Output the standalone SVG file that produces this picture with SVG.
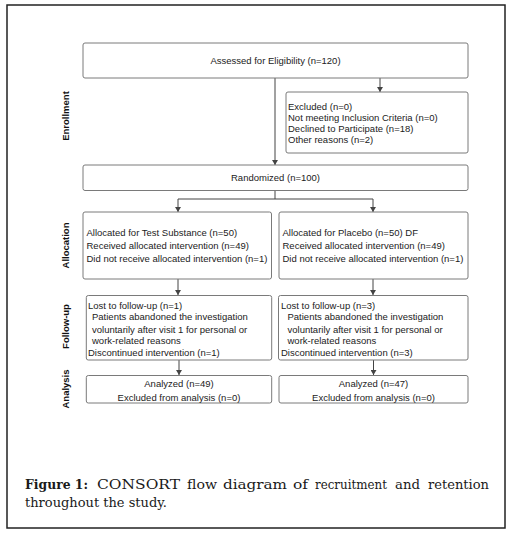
<svg xmlns="http://www.w3.org/2000/svg" width="514" height="535" viewBox="0 0 514 535">
<style>
  .box { fill: #ffffff; stroke: #7a7a7a; stroke-width: 1; }
  .t { font-family: "Liberation Sans", Arial, sans-serif; font-size: 9.5px; fill: #222; }
  .c { text-anchor: middle; }
  .side { font-family: "Liberation Sans", Arial, sans-serif; font-size: 9.5px; font-weight: bold; fill: #111; text-anchor: middle; dominant-baseline: central; }
  .conn { fill: none; stroke: #444; stroke-width: 1; }
  .cap { font-family: "DejaVu Serif", "Liberation Serif", serif; font-size: 13.5px; fill: #1a1a1a; }
  .b { font-weight: bold; }
</style>
<defs>
  <marker id="arr" markerWidth="6" markerHeight="6" refX="5" refY="3" orient="auto" markerUnits="userSpaceOnUse">
    <path d="M0,0 L5,3 L0,6 Z" fill="#444"/>
  </marker>
</defs>
<rect x="0" y="0" width="514" height="535" fill="#ffffff"/>
<rect x="7" y="5" width="498" height="523" fill="none" stroke="#222" stroke-width="1.5"/>

<g id="labels">
  <text class="side" transform="translate(65.5,116) rotate(-90)">Enrollment</text>
  <text class="side" transform="translate(65.5,245.5) rotate(-90)">Allocation</text>
  <text class="side" transform="translate(65.5,326.5) rotate(-90)">Follow-up</text>
  <text class="side" transform="translate(65.5,389) rotate(-90)">Analysis</text>
</g>

<g id="connectors">
  <path class="conn" d="M275,78 V165" marker-end="url(#arr)"/>
  <path class="conn" d="M380,78 V92" marker-end="url(#arr)"/>
  <path class="conn" d="M275,190 V199 H178 V212" marker-end="url(#arr)"/>
  <path class="conn" d="M275,199 H373 V212" marker-end="url(#arr)"/>
  <path class="conn" d="M178,279 V295" marker-end="url(#arr)"/>
  <path class="conn" d="M373,279 V295" marker-end="url(#arr)"/>
  <path class="conn" d="M179,360 V375" marker-end="url(#arr)"/>
  <path class="conn" d="M373.5,360 V375" marker-end="url(#arr)"/>
</g>

<g id="assessed">
  <rect class="box" x="83" y="43" width="385" height="35" rx="2"/>
  <text class="t c" x="275.5" y="64">Assessed for Eligibility (n=120)</text>
</g>

<g id="excluded">
  <rect class="box" x="286" y="92" width="182" height="61" rx="2"/>
  <text class="t" x="288" y="109.5">Excluded (n=0)</text>
  <text class="t" x="288" y="121">Not meeting Inclusion Criteria (n=0)</text>
  <text class="t" x="288" y="132.3">Declined to Participate (n=18)</text>
  <text class="t" x="288" y="143.3">Other reasons (n=2)</text>
</g>

<g id="randomized">
  <rect class="box" x="83" y="165" width="385" height="25.5" rx="2"/>
  <text class="t c" x="275.5" y="180.8">Randomized (n=100)</text>
</g>

<g id="alloc-test">
  <rect class="box" x="83" y="212" width="188.5" height="67" rx="2"/>
  <text class="t" x="86.5" y="235.8">Allocated for Test Substance (n=50)</text>
  <text class="t" x="86.5" y="248.8">Received allocated intervention (n=49)</text>
  <text class="t" x="86.5" y="261.8">Did not receive allocated intervention (n=1)</text>
</g>

<g id="alloc-placebo">
  <rect class="box" x="279" y="212" width="189" height="67" rx="2"/>
  <text class="t" x="282.5" y="235.8">Allocated for Placebo (n=50) DF</text>
  <text class="t" x="282.5" y="248.8">Received allocated intervention (n=49)</text>
  <text class="t" x="282.5" y="261.8">Did not receive allocated intervention (n=1)</text>
</g>

<g id="followup-test">
  <rect class="box" x="86.3" y="295.5" width="185.4" height="64.5" rx="2"/>
  <text class="t" x="88" y="308.5">Lost to follow-up (n=1)</text>
  <text class="t" x="92" y="320.2">Patients abandoned the investigation</text>
  <text class="t" x="92" y="332.5">voluntarily after visit 1 for personal or</text>
  <text class="t" x="92" y="343.5">work-related reasons</text>
  <text class="t" x="88" y="356.2">Discontinued intervention (n=1)</text>
</g>

<g id="followup-placebo">
  <rect class="box" x="278.5" y="295.5" width="189.5" height="64.5" rx="2"/>
  <text class="t" x="281" y="308.5">Lost to follow-up (n=3)</text>
  <text class="t" x="287.5" y="320.2">Patients abandoned the investigation</text>
  <text class="t" x="287.5" y="332.5">voluntarily after visit 1 for personal or</text>
  <text class="t" x="287.5" y="343.5">work-related reasons</text>
  <text class="t" x="281" y="356.2">Discontinued intervention (n=3)</text>
</g>

<g id="analysis-test">
  <rect class="box" x="86.3" y="375.5" width="185.4" height="27.5" rx="2"/>
  <text class="t c" x="179" y="386.8">Analyzed (n=49)</text>
  <text class="t c" x="179" y="400.8">Excluded from analysis (n=0)</text>
</g>

<g id="analysis-placebo">
  <rect class="box" x="279" y="375.5" width="189" height="27.5" rx="2"/>
  <text class="t c" x="373.5" y="386.8">Analyzed (n=47)</text>
  <text class="t c" x="373.5" y="400.8">Excluded from analysis (n=0)</text>
</g>

<g id="caption">
  <text class="cap b" x="25" y="488.5" textLength="63" lengthAdjust="spacingAndGlyphs">Figure 1:</text>
  <text class="cap" x="97" y="488.5" textLength="83" lengthAdjust="spacingAndGlyphs">CONSORT</text>
  <text class="cap" x="187" y="488.5" textLength="30" lengthAdjust="spacingAndGlyphs">flow</text>
  <text class="cap" x="223" y="488.5" textLength="64" lengthAdjust="spacingAndGlyphs">diagram</text>
  <text class="cap" x="293" y="488.5" textLength="15" lengthAdjust="spacingAndGlyphs">of</text>
  <text class="cap" x="315" y="488.5" textLength="72" lengthAdjust="spacingAndGlyphs">recruitment</text>
  <text class="cap" x="395" y="488.5" textLength="25" lengthAdjust="spacingAndGlyphs">and</text>
  <text class="cap" x="428" y="488.5" textLength="61" lengthAdjust="spacingAndGlyphs">retention</text>
  <text class="cap" x="25" y="506.5" textLength="142" lengthAdjust="spacingAndGlyphs">throughout the study.</text>
</g>
</svg>
